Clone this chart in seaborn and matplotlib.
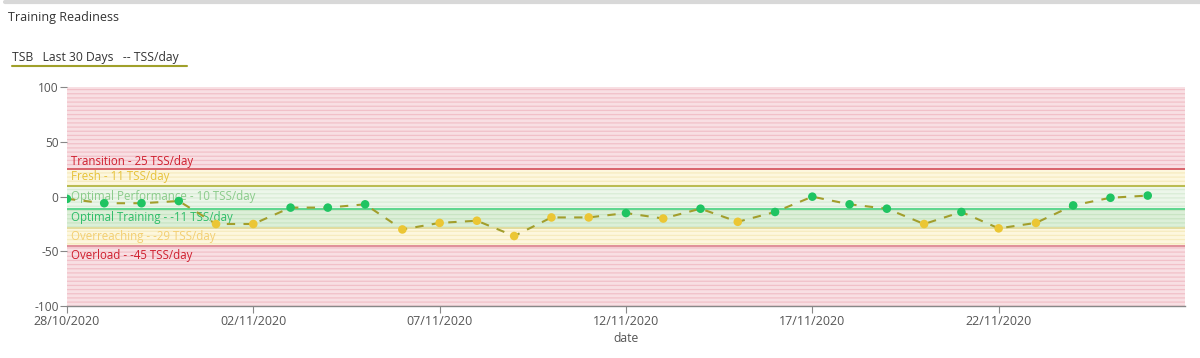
import matplotlib
matplotlib.use("Agg")
import matplotlib.pyplot as plt
import matplotlib.dates as mdates
from matplotlib.lines import Line2D
import seaborn as sns
import pandas as pd

# ---- data ----
start_date = "2020-10-28"
n_days = 30
tsb = [-2, -6, -6, -4, -25, -25, -10, -10, -7, -30, -24, -22, -36, -19, -19,
       -15, -20, -11, -23, -14, 0, -7, -11, -25, -14, -29, -24, -8, -1, 1]
status = ["optimal", "optimal", "optimal", "optimal", "overreaching", "overreaching",
          "optimal", "optimal", "optimal", "overreaching", "overreaching", "overreaching",
          "overreaching", "overreaching", "overreaching", "optimal", "overreaching", "optimal",
          "overreaching", "optimal", "optimal", "optimal", "optimal", "overreaching",
          "optimal", "overreaching", "overreaching", "optimal", "optimal", "optimal"]

zone_names = ["Transition", "Fresh", "Optimal Performance", "Optimal Training",
              "Overreaching", "Overload"]
zone_tss = [25, 11, 10, -11, -29, -45]
zone_low = [25, 10, -11, -29, -45, -100]
zone_high = [100, 25, 10, -11, -29, -45]
y_ticks = [100, 50, 0, -50, -100]
title = "Training Readiness"
legend_text = "TSB   Last 30 Days   -- TSS/day"

# ---- styling ----
zone_fill = ["#f8dfe3", "#fdf7de", "#ecf6ea", "#dcefd8", "#fdf7de", "#f8dfe3"]
zone_hatch = ["#f1c0c8", "#f6ebbf", "#d9ecd6", "#c9e4c4", "#f6ebbf", "#f1c0c8"]
boundary_line = ["#d9646c", "#b9bb4e", "#5dd68e", "#e2dc9e", "#e0909a"]
zone_text = ["#cf1f2e", "#e6c23a", "#8acb8a", "#2ebd68", "#f3cf72", "#cf1f2e"]

sns.set_theme(style="white")
plt.rcParams["font.family"] = ["Open Sans", "DejaVu Sans"]
plt.rcParams["hatch.linewidth"] = 0.9

df = pd.DataFrame({
    "date": pd.date_range(start_date, periods=n_days, freq="D"),
    "tsb": tsb,
    "status": status,
})

fig = plt.figure(figsize=(12, 3.58), dpi=100)
ax = fig.add_axes([0.0558, 0.1453, 0.9317, 0.6107])

x0 = df["date"].iloc[0]
x1 = x0 + pd.Timedelta(days=n_days)

for i in range(len(zone_names)):
    ax.axhspan(zone_low[i], zone_high[i], facecolor=zone_fill[i],
               edgecolor=zone_hatch[i], hatch="----", linewidth=0, zorder=0)

for i in range(len(zone_names) - 1):
    ax.axhline(zone_low[i], color=boundary_line[i], lw=1.4, zorder=1)

label_size = 8.3
for i, name in enumerate(zone_names):
    if i == 0:
        ylab = zone_low[i] + 7
    elif i == len(zone_names) - 1:
        ylab = zone_high[i] - 9
    else:
        ylab = (zone_low[i] + zone_high[i]) / 2 + 0.5
    ax.text(0.004, ylab, f"{name} - {zone_tss[i]} TSS/day",
            transform=ax.get_yaxis_transform(), color=zone_text[i],
            fontsize=label_size, va="center", ha="left", zorder=2)

sns.lineplot(data=df, x="date", y="tsb", ax=ax, color="#a29e2c",
             linestyle=(0, (4, 4)), linewidth=1.5, zorder=3)
sns.scatterplot(data=df, x="date", y="tsb", hue="status", ax=ax,
                palette={"optimal": "#1fc462", "overreaching": "#ebc634"},
                s=38, edgecolor="none", legend=False, zorder=4)

ax.set_xlim(x0, x1)
ax.set_ylim(-100, 100)
ax.set_yticks(y_ticks)
ax.set_yticklabels([str(v) for v in y_ticks])
ax.xaxis.set_major_locator(mdates.DayLocator(bymonthday=[28, 2, 7, 12, 17, 22]))
ax.xaxis.set_major_formatter(mdates.DateFormatter("%d/%m/%Y"))
ax.set_ylabel("")
ax.set_xlabel("date", fontsize=8.7, color="#555555", labelpad=3)

for side in ["top", "right", "left"]:
    ax.spines[side].set_visible(False)
ax.spines["bottom"].set_color("#888888")
ax.spines["bottom"].set_linewidth(1.0)
ax.tick_params(axis="x", which="major", direction="out", length=5, width=0.8,
               color="#888888", labelcolor="#555555", labelsize=9.0, pad=1.5,
               bottom=True)
ax.tick_params(axis="y", which="major", direction="out", length=5, width=0.8,
               color="#888888", labelcolor="#555555", labelsize=8.6, pad=1,
               left=True)

fig.text(8 / 1200, 1 - 18 / 358, title, fontsize=9.0, color="#333333",
         ha="left", va="center")
fig.text(12 / 1200, 1 - 58 / 358, legend_text, fontsize=8.7, color="#333333",
         ha="left", va="center")
fig.add_artist(Line2D([12 / 1200, 187 / 1200], [1 - 66 / 358, 1 - 66 / 358],
                      color="#a0a02a", lw=1.5))
fig.add_artist(Line2D([0.004, 1], [1 - 1.5 / 358, 1 - 1.5 / 358],
                      color="#d8d8d8", lw=3))

fig.savefig("out.png", dpi=100)
